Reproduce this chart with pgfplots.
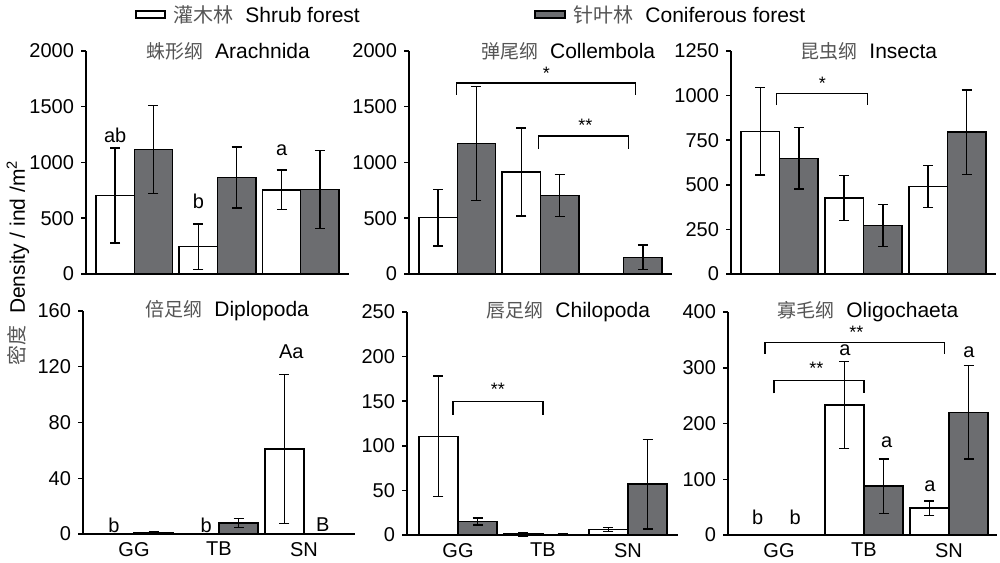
\documentclass[border=0pt]{standalone}
\usepackage{fontspec}
\setmainfont{Liberation Sans}
\newfontfamily\cjk{Noto Sans CJK SC}
\usepackage{pgfplots}
\pgfplotsset{compat=1.18}
\definecolor{barg}{HTML}{6C6D70}
\definecolor{cjkg}{HTML}{555555}
\newcommand\tf{\fontsize{10}{12}\selectfont}
\newcommand\ttl[2]{{\color{cjkg}\cjk\fontsize{9.5}{12}\selectfont #1}\hspace{6pt}{\fontsize{10.5}{12}\selectfont #2}}
\pgfplotsset{
  panel/.style={
    scale only axis, height=111.5pt,
    axis x line=bottom, axis y line=left,
    axis line style={-, line width=0.75pt, black},
    ybar, bar width=0.46, bar shift=0pt,
    xtick={0,1,2}, xticklabels={},
    xtick style={draw=none},
    ytick style={line width=0.75pt, black},
    tick align=outside, major tick length=2.5pt,
    ymin=0,
    tick label style={font=\tf},
    xticklabel style={yshift=2pt},
    /pgf/number format/assume math mode=true,
    /pgf/number format/1000 sep={},
    scaled y ticks=false,
    clip=false,
  },
  wbar/.style={fill=white, draw=black, line width=0.75pt,
    error bars/.cd, y dir=both, y explicit,
    error bar style={line width=0.75pt, black},
    error mark options={rotate=90, line width=0.75pt, black, mark size=2.5pt}},
  gbar/.style={fill=barg, draw=black, line width=0.75pt,
    error bars/.cd, y dir=both, y explicit,
    error bar style={line width=0.75pt, black},
    error mark options={rotate=90, line width=0.75pt, black, mark size=2.5pt}},
  botlab/.style={xticklabels={GG,TB,SN}},
}
\newcommand\brk[4]{\draw[line width=0.65pt] (axis cs:#1,#4) -- (axis cs:#1,#3) -- (axis cs:#2,#3) -- (axis cs:#2,#4);}
\begin{document}
\begin{tikzpicture}[x=1pt,y=1pt]
\path[use as bounding box] (0,0) rectangle (500,281);

% legend
\draw[line width=0.75pt, fill=white] (68,272) rectangle (82.5,275.5);
\node[anchor=west, inner sep=0] at (86.5,273.5) {{\color{cjkg}\cjk\fontsize{10}{12}\selectfont 灌木林}\hspace{6pt}{\fontsize{10.5}{12}\selectfont Shrub forest}};
\draw[line width=0.75pt, fill=barg] (267.5,272) rectangle (282.5,275.5);
\node[anchor=west, inner sep=0] at (286.5,273.5) {{\color{cjkg}\cjk\fontsize{10}{12}\selectfont 针叶林}\hspace{6pt}{\fontsize{10.5}{12}\selectfont Coniferous forest}};

% y label
\node[rotate=90, inner sep=0] at (9,149.5) {{\color{cjkg}\cjk\fontsize{10}{12}\selectfont 密度}\hspace{6pt}{\fontsize{10.5}{12}\selectfont Density / ind /m\textsuperscript{2}}};

% Panel 1 Arachnida
\begin{axis}[panel, at={(43pt,144pt)}, anchor=south west, width=131.5pt,
  xmin=-0.58, xmax=2.58, ymax=2000, ytick={0,500,1000,1500,2000}]
\addplot[wbar] coordinates {(-0.23,705) +- (0,425) (0.77,245) +- (0,205) (1.77,755) +- (0,178)};
\addplot[gbar] coordinates {(0.23,1115) +- (0,395) (1.23,865) +- (0,275) (2.23,757) +- (0,350)};
\node[font=\tf, inner sep=0] at (axis cs:-0.23,1247) {ab};
\node[font=\tf, inner sep=0] at (axis cs:0.77,655) {b};
\node[font=\tf, inner sep=0] at (axis cs:1.77,1112) {a};
\node[inner sep=0] at (rel axis cs:0.54,1) {\ttl{蛛形纲}{Arachnida}};
\end{axis}

% Panel 2 Collembola
\begin{axis}[panel, at={(204.5pt,144pt)}, anchor=south west, width=131.5pt,
  xmin=-0.58, xmax=2.58, ymax=2000, ytick={0,500,1000,1500,2000}]
\addplot[wbar] coordinates {(-0.23,505) +- (0,253) (0.77,915) +- (0,395)};
\addplot[gbar] coordinates {(0.23,1170) +- (0,510) (1.23,705) +- (0,188) (2.23,150) +- (0,108)};
\brk{-0.01}{2.14}{1713}{1608}
\node[font=\fontsize{9}{10}\selectfont, inner sep=0] at (axis cs:1.07,1800) {*};
\brk{0.98}{2.06}{1238}{1121}
\node[font=\fontsize{9}{10}\selectfont, inner sep=0] at (axis cs:1.54,1330) {**};
\node[inner sep=0] at (rel axis cs:0.605,1) {\ttl{弹尾纲}{Collembola}};
\end{axis}

% Panel 3 Insecta
\begin{axis}[panel, at={(365.5pt,144pt)}, anchor=south west, width=132.5pt,
  xmin=-0.58, xmax=2.58, ymax=1250, ytick={0,250,500,750,1000,1250}]
\addplot[wbar] coordinates {(-0.23,800) +- (0,245) (0.77,426) +- (0,127) (1.77,490) +- (0,118)};
\addplot[gbar] coordinates {(0.23,648) +- (0,172) (1.23,272) +- (0,117) (2.23,795) +- (0,237)};
\brk{-0.04}{1.05}{1013}{947}
\node[font=\fontsize{9}{10}\selectfont, inner sep=0] at (axis cs:0.51,1068) {*};
\node[inner sep=0] at (rel axis cs:0.52,1) {\ttl{昆虫纲}{Insecta}};
\end{axis}

% Panel 4 Diplopoda
\begin{axis}[panel, botlab, at={(41.5pt,14pt)}, anchor=south west, width=136pt,
  xmin=-0.6, xmax=2.6, ymax=160, ytick={0,40,80,120,160}]
\addplot[wbar] coordinates {(1.77,61) +- (0,53.5)};
\addplot[gbar] coordinates {(0.23,1) +- (0,0.6) (1.23,8) +- (0,3.3)};
\node[font=\tf, inner sep=0] at (axis cs:-0.235,6) {b};
\node[font=\tf, inner sep=0] at (axis cs:0.85,6) {b};
\node[font=\tf, inner sep=0] at (axis cs:1.85,130.5) {Aa};
\node[font=\tf, inner sep=0] at (axis cs:2.22,6.5) {B};
\node[inner sep=0] at (rel axis cs:0.53,1) {\ttl{倍足纲}{Diplopoda}};
\end{axis}

% Panel 5 Chilopoda
\begin{axis}[panel, botlab, at={(203.5pt,13.5pt)}, anchor=south west, width=135.5pt,
  xmin=-0.6, xmax=2.588, ymax=250, ytick={0,50,100,150,200,250}]
\addplot[wbar] coordinates {(-0.23,110.5) +- (0,67.5) (0.77,1) +- (0,2) (1.77,6) +- (0,2.3)};
\addplot[gbar] coordinates {(0.23,15) +- (0,4) (1.23,0.5) +- (0,0.8) (2.23,57) +- (0,50)};
\brk{-0.06}{1.0}{150}{135}
\node[font=\fontsize{9}{10}\selectfont, inner sep=0] at (axis cs:0.47,163) {**};
\node[inner sep=0] at (rel axis cs:0.595,1) {\ttl{唇足纲}{Chilopoda}};
\end{axis}

% Panel 6 Oligochaeta
\begin{axis}[panel, botlab, at={(364pt,13.5pt)}, anchor=south west, width=134.5pt,
  xmin=-0.6, xmax=2.565, ymax=400, ytick={0,100,200,300,400}]
\addplot[wbar] coordinates {(0.77,233) +- (0,78) (1.77,48) +- (0,13)};
\addplot[gbar] coordinates {(1.23,87.5) +- (0,48.5) (2.23,220) +- (0,84)};
\node[font=\tf, inner sep=0] at (axis cs:-0.25,32) {b};
\node[font=\tf, inner sep=0] at (axis cs:0.19,32) {b};
\node[font=\tf, inner sep=0] at (axis cs:0.776,332) {a};
\node[font=\tf, inner sep=0] at (axis cs:1.267,167) {a};
\node[font=\tf, inner sep=0] at (axis cs:1.776,88) {a};
\node[font=\tf, inner sep=0] at (axis cs:2.235,328) {a};
\brk{-0.165}{1.95}{345.6}{324.7}
\node[font=\fontsize{9}{10}\selectfont, inner sep=0] at (axis cs:0.91,363) {**};
\brk{-0.06}{1.0}{276.8}{254}
\node[font=\fontsize{9}{10}\selectfont, inner sep=0] at (axis cs:0.44,299) {**};
\node[inner sep=0] at (rel axis cs:0.52,1) {\ttl{寡毛纲}{Oligochaeta}};
\end{axis}
\end{tikzpicture}
\end{document}
